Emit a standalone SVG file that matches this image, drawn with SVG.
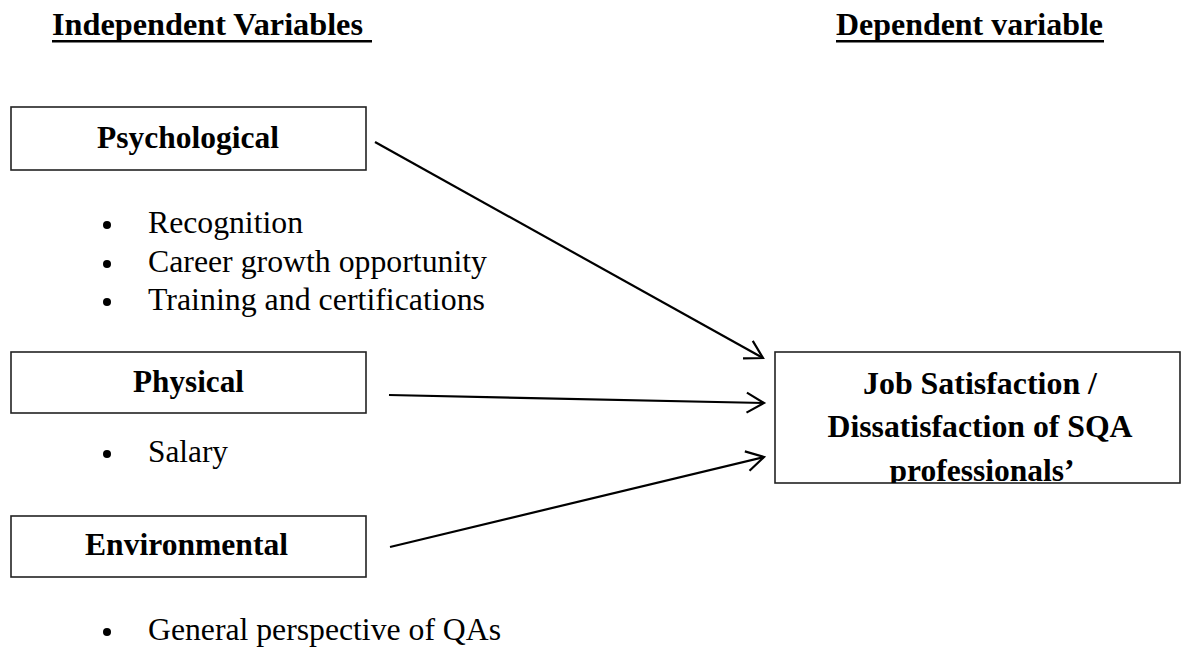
<svg xmlns="http://www.w3.org/2000/svg" width="1182" height="647" viewBox="0 0 1182 647">
  <style>
    .bg { fill: #ffffff; }
    .box { fill: #ffffff; stroke: #222222; stroke-width: 1.6; }
    .head { font-family: "Liberation Serif", "Times New Roman", serif; font-weight: bold; font-size: 31.5px; fill: #000000; }
    .title { font-family: "Liberation Serif", "Times New Roman", serif; font-weight: bold; font-size: 31.5px; fill: #000000; }
    .item { font-family: "Liberation Serif", "Times New Roman", serif; font-size: 31.5px; fill: #000000; }
    .rule { stroke: #000000; stroke-width: 2.6; }
    .dot { fill: #000000; }
    .edge { fill: none; stroke: #000000; stroke-width: 2.2; }
    .tip { fill: none; stroke: #000000; stroke-width: 2.2; stroke-linejoin: miter; }
  </style>
  <defs>
    <marker id="open-arrow" markerUnits="userSpaceOnUse" markerWidth="24" markerHeight="26" refX="19.3" refY="12" orient="auto" overflow="visible">
      <path class="tip" d="M2,2 L19.3,12 L2,22"/>
    </marker>
    <clipPath id="dep-clip">
      <rect x="775" y="352" width="405" height="131"/>
    </clipPath>
  </defs>

  <rect class="bg" x="0" y="0" width="1182" height="647"/>

  <!-- column headings -->
  <g id="heading-independent">
    <text class="head" x="52" y="35" textLength="311" lengthAdjust="spacingAndGlyphs">Independent Variables</text>
    <line class="rule" x1="52" y1="41.3" x2="372" y2="41.3"/>
  </g>
  <g id="heading-dependent">
    <text class="head" x="836" y="35" textLength="267" lengthAdjust="spacingAndGlyphs">Dependent variable</text>
    <line class="rule" x1="836" y1="41.3" x2="1104" y2="41.3"/>
  </g>

  <!-- independent variable: psychological -->
  <g id="node-psychological">
    <rect class="box" x="11" y="107" width="355" height="63"/>
    <text class="title" x="97" y="148" textLength="182" lengthAdjust="spacingAndGlyphs">Psychological</text>
  </g>
  <g id="list-psychological">
    <circle class="dot" cx="107" cy="225" r="4"/>
    <text class="item" x="148" y="233" textLength="155" lengthAdjust="spacingAndGlyphs">Recognition</text>
    <circle class="dot" cx="107" cy="264" r="4"/>
    <text class="item" x="148" y="272" textLength="339" lengthAdjust="spacingAndGlyphs">Career growth opportunity</text>
    <circle class="dot" cx="107" cy="302" r="4"/>
    <text class="item" x="148" y="310" textLength="337" lengthAdjust="spacingAndGlyphs">Training and certifications</text>
  </g>

  <!-- independent variable: physical -->
  <g id="node-physical">
    <rect class="box" x="11" y="352" width="355" height="61"/>
    <text class="title" x="133" y="392" textLength="111" lengthAdjust="spacingAndGlyphs">Physical</text>
  </g>
  <g id="list-physical">
    <circle class="dot" cx="107" cy="454" r="4"/>
    <text class="item" x="148" y="462" textLength="80" lengthAdjust="spacingAndGlyphs">Salary</text>
  </g>

  <!-- independent variable: environmental -->
  <g id="node-environmental">
    <rect class="box" x="11" y="516" width="355" height="61"/>
    <text class="title" x="85" y="555" textLength="203" lengthAdjust="spacingAndGlyphs">Environmental</text>
  </g>
  <g id="list-environmental">
    <circle class="dot" cx="107" cy="632" r="4"/>
    <text class="item" x="148" y="640" textLength="353" lengthAdjust="spacingAndGlyphs">General perspective of QAs</text>
  </g>

  <!-- dependent variable -->
  <g id="node-job-satisfaction">
    <rect class="box" x="775" y="352" width="405" height="131"/>
    <g clip-path="url(#dep-clip)">
      <text class="title" x="980" y="394" text-anchor="middle" textLength="234" lengthAdjust="spacingAndGlyphs">Job Satisfaction /</text>
      <text class="title" x="980" y="437" text-anchor="middle" textLength="305" lengthAdjust="spacingAndGlyphs">Dissatisfaction of SQA</text>
      <text class="title" x="982" y="481" text-anchor="middle">professionals’</text>
    </g>
  </g>

  <!-- connectors -->
  <g id="connectors">
    <line class="edge" x1="375" y1="142" x2="763" y2="358" marker-end="url(#open-arrow)"/>
    <line class="edge" x1="389" y1="395" x2="764" y2="403" marker-end="url(#open-arrow)"/>
    <line class="edge" x1="390" y1="547" x2="764" y2="457" marker-end="url(#open-arrow)"/>
  </g>
</svg>
